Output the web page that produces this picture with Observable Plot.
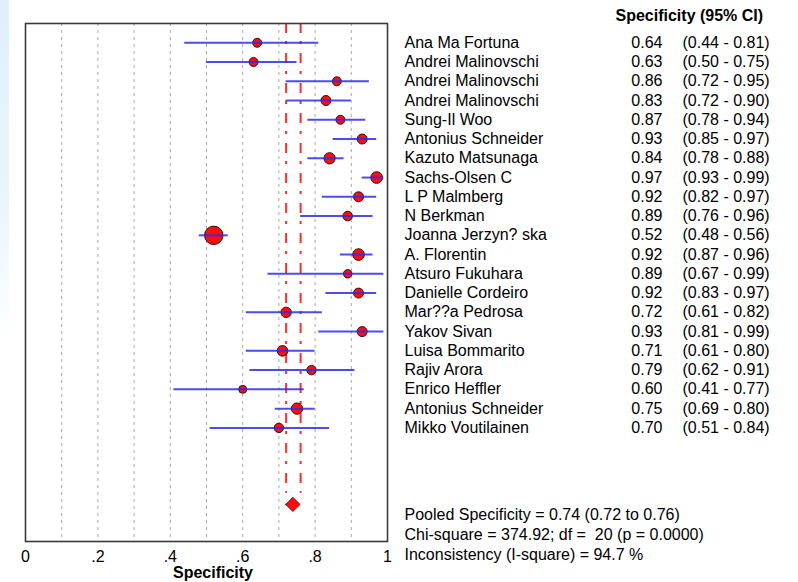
<!DOCTYPE html>
<html>
<head>
<meta charset="utf-8">
<script src="https://cdn.jsdelivr.net/npm/d3@7"></script>
<script src="https://cdn.jsdelivr.net/npm/@observablehq/plot@0.6"></script>
<style>
  html, body { margin: 0; padding: 0; background: #fff; }
  #chart { position: relative; width: 798px; height: 582px; }
  #chart svg text { white-space: pre; }
  .edge { position: absolute; left: 0; top: 0; width: 9px; height: 340px;
          background: linear-gradient(to bottom, #dff0fa 0%, #eaf5fc 60%, #ffffff 100%); }
</style>
</head>
<body>
<div id="chart"><div class="edge"></div></div>
<script>
// Study-level specificity with 95% confidence intervals
const studies = [
  "Ana Ma Fortuna", "Andrei Malinovschi", "Andrei Malinovschi", "Andrei Malinovschi",
  "Sung-Il Woo", "Antonius Schneider", "Kazuto Matsunaga", "Sachs-Olsen C",
  "L P Malmberg", "N Berkman", "Joanna Jerzyn? ska", "A. Florentin",
  "Atsuro Fukuhara", "Danielle Cordeiro", "Mar??a Pedrosa", "Yakov Sivan",
  "Luisa Bommarito", "Rajiv Arora", "Enrico Heffler", "Antonius Schneider",
  "Mikko Voutilainen"
];
const specificity = [0.64, 0.63, 0.86, 0.83, 0.87, 0.93, 0.84, 0.97, 0.92, 0.89, 0.52,
                     0.92, 0.89, 0.92, 0.72, 0.93, 0.71, 0.79, 0.60, 0.75, 0.70];
const ciLow  = [0.44, 0.50, 0.72, 0.72, 0.78, 0.85, 0.78, 0.93, 0.82, 0.76, 0.48,
                0.87, 0.67, 0.83, 0.61, 0.81, 0.61, 0.62, 0.41, 0.69, 0.51];
const ciHigh = [0.81, 0.75, 0.95, 0.90, 0.94, 0.97, 0.88, 0.99, 0.97, 0.96, 0.56,
                0.96, 0.99, 0.97, 0.82, 0.99, 0.80, 0.91, 0.77, 0.80, 0.84];
// Relative study weight (marker area)
const weight = [20, 20, 20, 25, 20, 25, 32, 34, 25, 23, 85,
                34, 18, 25, 27, 25, 28, 22, 16, 32, 22];

// Pooled estimate
const pooledEst = 0.74, pooledLow = 0.72, pooledHigh = 0.76;
const statsLines = [
  "Pooled Specificity = 0.74 (0.72 to 0.76)",
  "Chi-square = 374.92; df =  20 (p = 0.0000)",
  "Inconsistency (I-square) = 94.7 %"
];

const xTicks = [0, 0.2, 0.4, 0.6, 0.8, 1];
const gridTicks = [0.1, 0.2, 0.3, 0.4, 0.5, 0.6, 0.7, 0.8, 0.9];
const header = "Specificity (95% CI)";
const axisTitle = "Specificity";

const rows = studies.map((study, i) => ({
  study, spec: specificity[i], lo: ciLow[i], hi: ciHigh[i], weight: weight[i], row: i
}));
const pooledRow = studies.length + 3;
const diamond = [
  {x: pooledLow, y1: pooledRow, y2: pooledRow},
  {x: pooledEst, y1: pooledRow - 0.37, y2: pooledRow + 0.37},
  {x: pooledHigh, y1: pooledRow, y2: pooledRow}
];

const fmt = d => d === 0 ? "0" : d === 1 ? "1" : String(d).replace(/^0/, "");

const plot = Plot.plot({
  width: 798,
  height: 582,
  marginLeft: 25,
  marginRight: 411,
  marginTop: 23,
  marginBottom: 41,
  style: {fontFamily: "'Liberation Sans', Arial, sans-serif", fontSize: "16px", background: "transparent", color: "#000"},
  x: {domain: [0, 1]},
  y: {domain: [-1, 25.9], reverse: true, axis: null},
  r: {domain: [0, 85], range: [0, 9.2]},
  marks: [
    Plot.ruleX(gridTicks, {stroke: "#a8a8a8", strokeWidth: 1, strokeDasharray: "3,4"}),
    Plot.ruleX([pooledLow, pooledHigh], {
      y1: -1, y2: pooledRow - 0.6,
      stroke: "#ff2b2b", strokeWidth: 2, strokeDasharray: "10,8,3,9"
    }),
    Plot.dot(rows, {x: "spec", y: "row", r: "weight", fill: "#ff0d0d", stroke: "#2a1010", strokeWidth: 1}),
    Plot.ruleY(rows, {x1: "lo", x2: "hi", y: "row", stroke: "#2b2bf0", strokeWidth: 2, strokeOpacity: 0.85}),
    Plot.areaY(diamond, {x: "x", y1: "y1", y2: "y2", fill: "#ff0d0d", stroke: "#7a0000", strokeWidth: 0.8}),
    Plot.frame({stroke: "#3a3a3a", strokeWidth: 1.6}),
    Plot.axisX({ticks: xTicks, tickFormat: fmt, tickSize: 0, tickPadding: 9, fontSize: 16, label: null}),
    Plot.text([axisTitle], {frameAnchor: "bottom", lineAnchor: "middle", dy: 31, dx: 6.5, fontWeight: "bold", fontSize: 16}),
    Plot.text([header], {frameAnchor: "top-right", textAnchor: "start", lineAnchor: "middle", dx: 228, dy: -8, fontWeight: "bold", fontSize: 16}),
    Plot.text(rows, {y: "row", text: "study", frameAnchor: "right", textAnchor: "start", dx: 17, fontSize: 16}),
    Plot.text(rows, {y: "row", text: d => d.spec.toFixed(2), frameAnchor: "right", textAnchor: "end", dx: 275, fontSize: 16}),
    Plot.text(rows, {y: "row", text: d => `(${d.lo.toFixed(2)} - ${d.hi.toFixed(2)})`, frameAnchor: "right", textAnchor: "start", dx: 295, fontSize: 16}),
    Plot.text([statsLines.join("\n")], {frameAnchor: "bottom-right", textAnchor: "start", lineAnchor: "middle", lineHeight: 1.23, dx: 17, dy: -7.7, fontSize: 16})
  ]
});
document.getElementById("chart").appendChild(plot);
</script>
</body>
</html>
